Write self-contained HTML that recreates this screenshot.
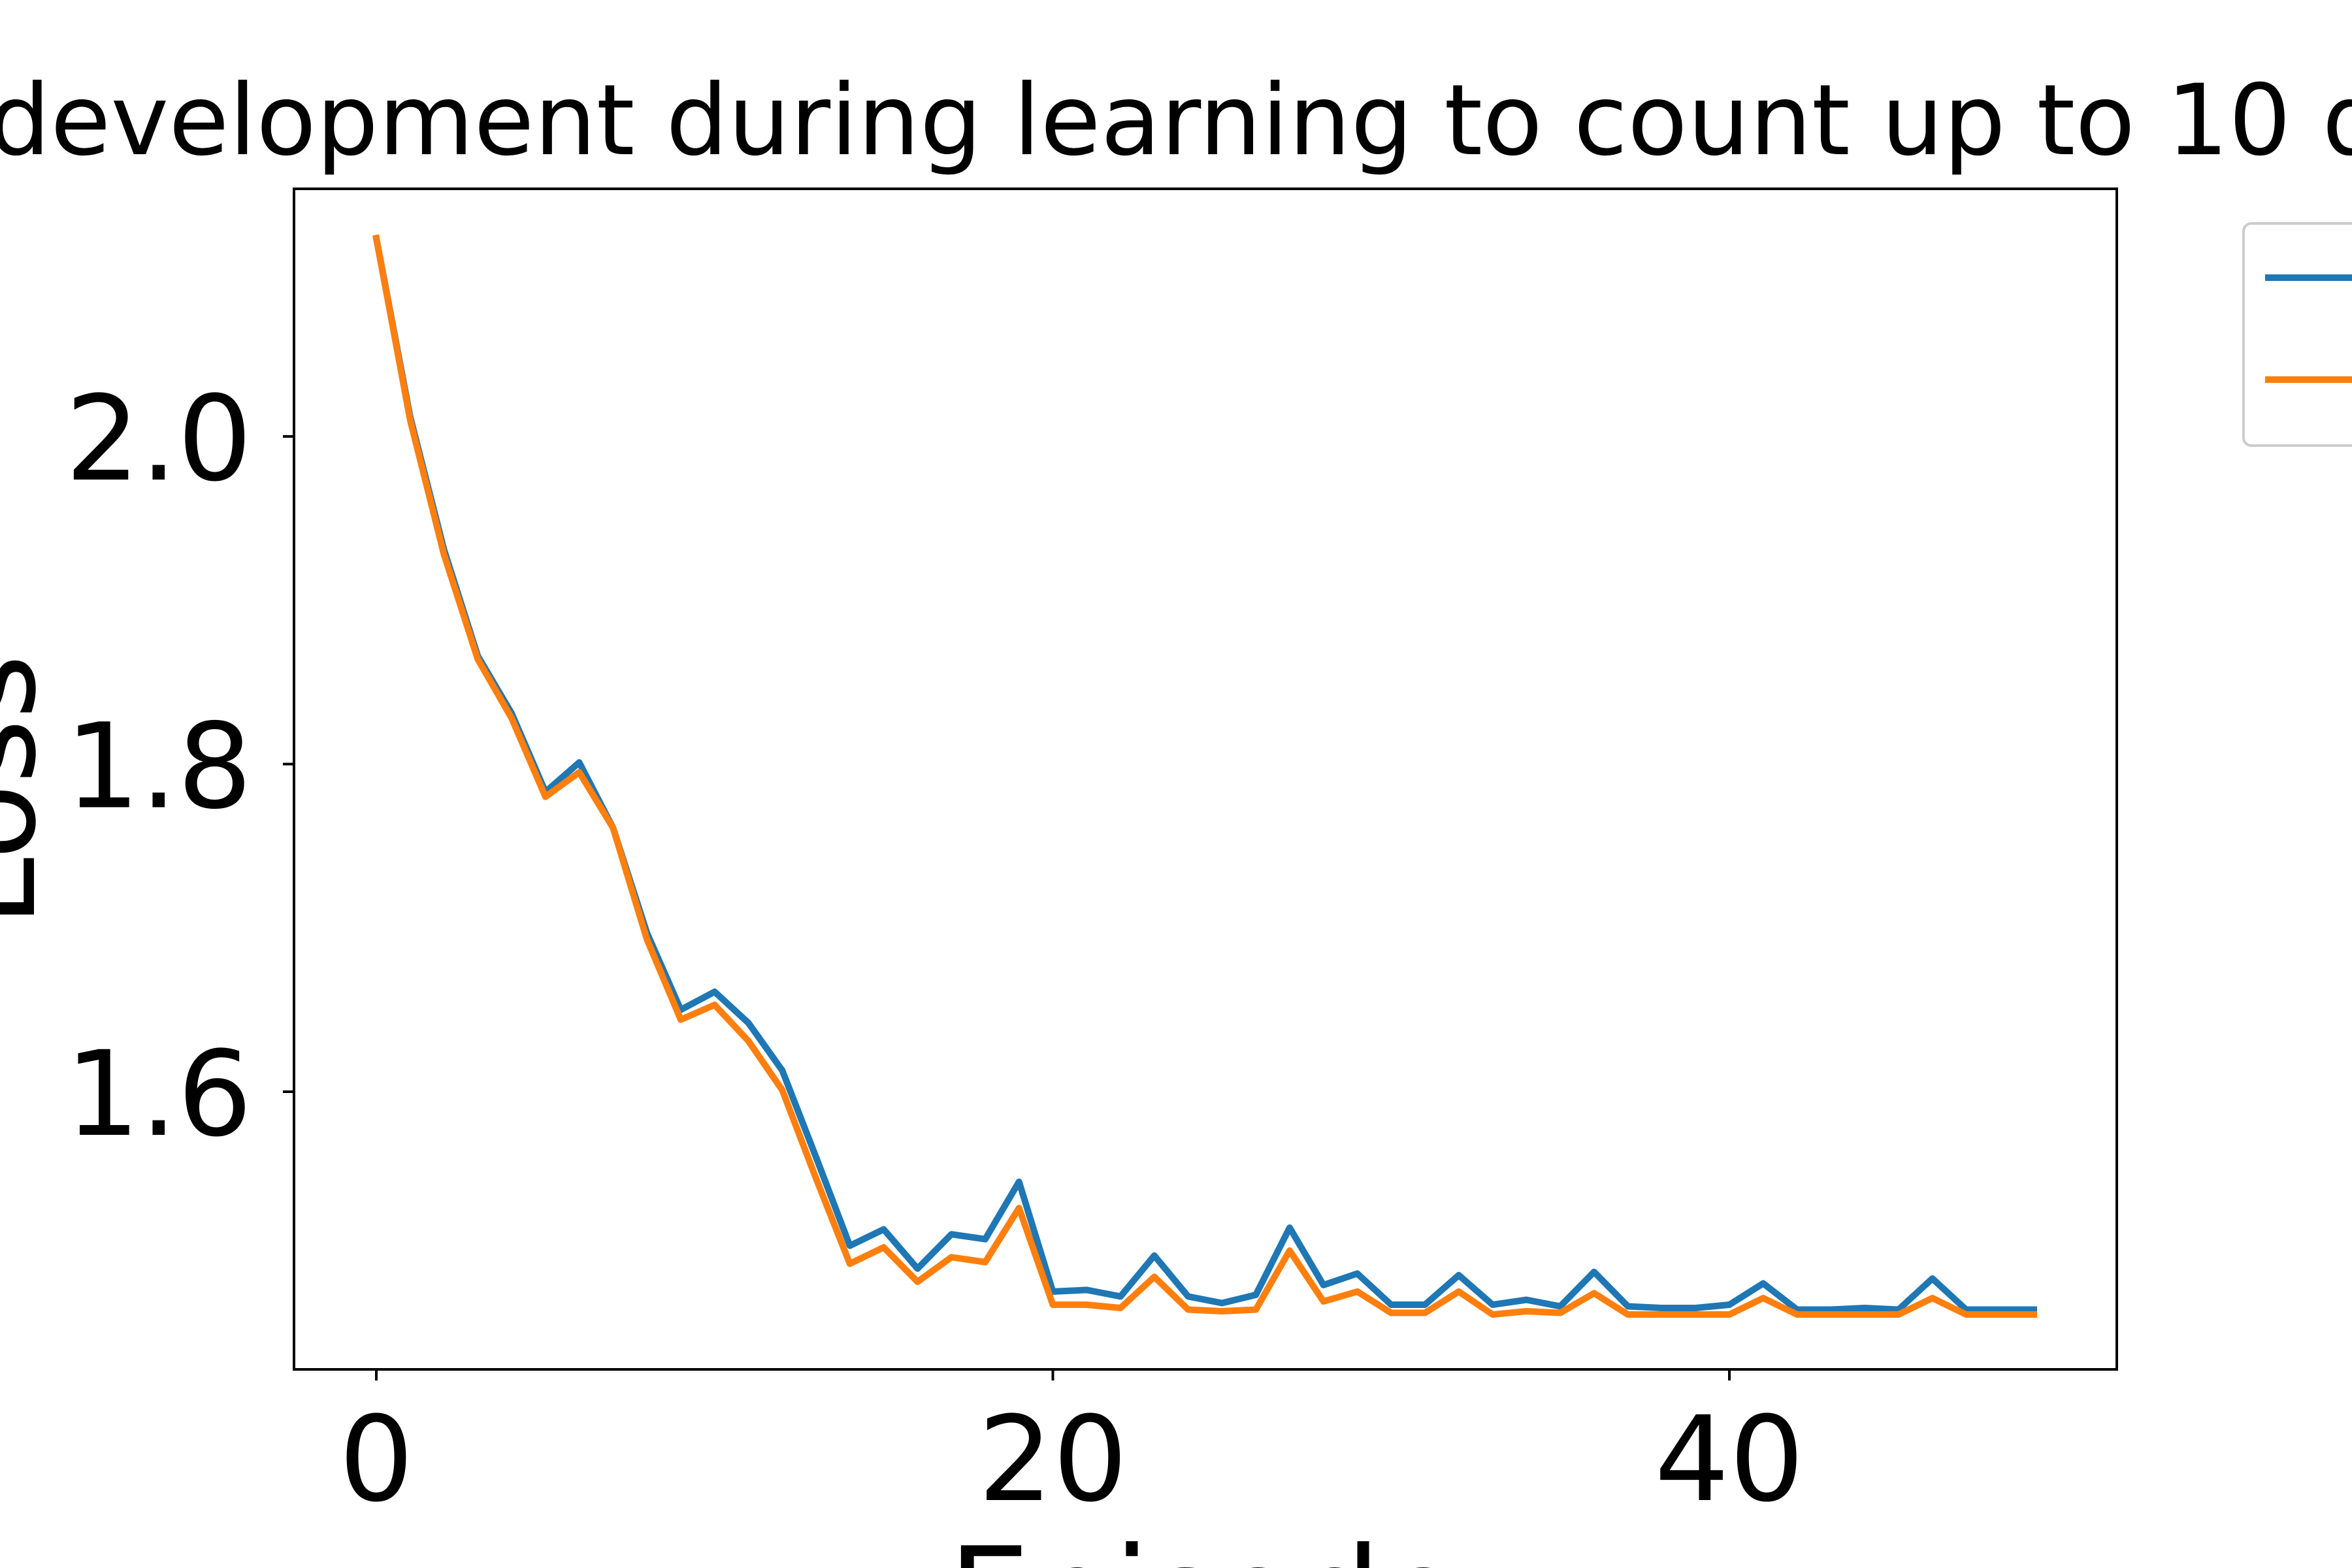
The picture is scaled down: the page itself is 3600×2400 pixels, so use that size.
<!DOCTYPE html>
<html><head><meta charset="utf-8"><style>
html,body{margin:0;padding:0;background:#fff;width:3600px;height:2400px;overflow:hidden}
text{font-family:"DejaVu Sans","Liberation Sans",sans-serif;fill:#000}
</style></head><body>
<svg id="chart" width="3600" height="2400" viewBox="0 0 3600 2400" xmlns="http://www.w3.org/2000/svg" style="display:block">
<rect width="3600" height="2400" fill="#fff"/>
<text x="-18" y="236" font-size="150">development during learning to count up to 10 digits</text>
<g id="plot"></g>
<text x="1844" y="2511" font-size="200" text-anchor="middle">Episode</text>
<text transform="translate(52,1210) rotate(-90)" font-size="190" text-anchor="middle">Loss</text>
<g>
<rect x="3434" y="342" width="200" height="340" rx="12" fill="#fff" stroke="#ccc" stroke-width="4"/>
<line x1="3467" y1="425" x2="3620" y2="425" stroke="#1f77b4" stroke-width="10"/>
<line x1="3467" y1="581" x2="3620" y2="581" stroke="#ff7f0e" stroke-width="10"/>
</g>
</svg>
<script>
const episodes = Array.from({length:50},(_, i)=>i);
const seriesBlue = [2.121,2.012,1.931,1.866,1.831,1.783,1.801,1.761,1.697,1.650,1.661,1.642,1.613,1.560,1.506,1.516,1.492,1.513,1.510,1.545,1.478,1.479,1.475,1.500,1.475,1.471,1.476,1.517,1.482,1.489,1.470,1.470,1.488,1.470,1.473,1.469,1.490,1.469,1.468,1.468,1.470,1.483,1.467,1.467,1.468,1.467,1.486,1.467,1.467,1.467];
const seriesOrange = [2.121,2.010,1.928,1.864,1.828,1.780,1.795,1.761,1.693,1.644,1.653,1.631,1.601,1.547,1.495,1.505,1.484,1.499,1.496,1.529,1.470,1.470,1.468,1.487,1.467,1.466,1.467,1.503,1.472,1.478,1.465,1.465,1.478,1.464,1.466,1.465,1.477,1.464,1.464,1.464,1.464,1.474,1.464,1.464,1.464,1.464,1.474,1.464,1.464,1.464];
const xTicks = [0,20,40];
const yTicks = [1.6,1.8,2.0];
const yTickLabels = ["1.6","1.8","2.0"];

const L=450,R=3240,T=289,B=2096;
const xs = v => 576 + v*(2647-576)/40;
const ys = v => 668 + (2.0-v)*(1671-668)/0.4;
const NS="http://www.w3.org/2000/svg";
const g=document.getElementById('plot');
function mk(tag,attrs){const e=document.createElementNS(NS,tag);for(const k in attrs)e.setAttribute(k,attrs[k]);g.appendChild(e);return e;}

xTicks.forEach(t=>{
  const l=mk('line',{x1:xs(t),x2:xs(t),y1:B,y2:B+17,stroke:'#000','stroke-width':4});
  
  
  const tx=mk('text',{x:xs(t),y:2296,'font-size':180,'text-anchor':'middle'});
  tx.textContent=String(t);
  
  
});
yTicks.forEach((t,i)=>{
  const l=mk('line',{x1:L-17,x2:L,y1:ys(t),y2:ys(t),stroke:'#000','stroke-width':4});
  
  
  const tx=mk('text',{x:386,y:ys(t)+66,'font-size':180,'text-anchor':'end'});
  tx.textContent=yTickLabels[i];
  
  
});
function line(vals,color,name){
  const d=vals.map((v,i)=>(i?'L':'M')+xs(episodes[i]).toFixed(1)+' '+ys(v).toFixed(1)).join(' ');
  const p=mk('path',{d:d,fill:'none',stroke:color,'stroke-width':10,'stroke-linejoin':'round','stroke-linecap':'square'});
  
  
}
line(seriesBlue,'#1f77b4','series-blue-line');
line(seriesOrange,'#ff7f0e','series-orange-line');
const fr=mk('rect',{x:L,y:T,width:R-L,height:B-T,fill:'none',stroke:'#000','stroke-width':4});


</script>
</body></html>
